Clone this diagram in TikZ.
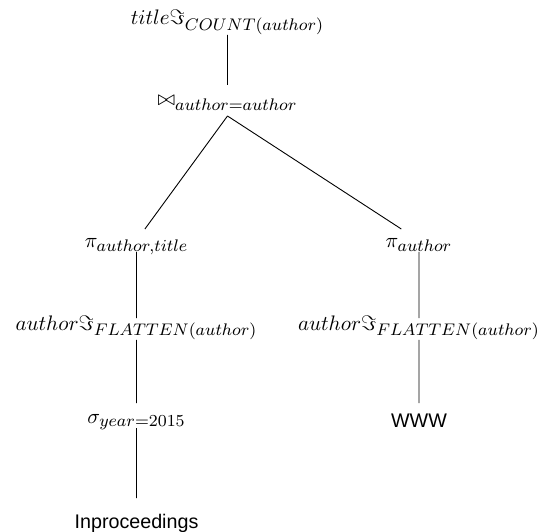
\RequirePackage{fix-cm}
\documentclass[tikz,border=0pt]{standalone}
\usepackage{fontspec}
\newfontfamily\relfont{Liberation Sans}
\DeclareMathSizes{10}{10}{8}{6}

\tikzset{
  x=1pt, y=-1pt,
  every node/.style={inner sep=0pt, outer sep=0pt, anchor=base},
  % operator labels: 10pt math, enlarged as a whole
  op/.style={font=\fontsize{10}{12}\selectfont, scale=2.1, transform shape},
  rel/.style={font=\relfont\fontsize{19.7}{24}\selectfont},
  link/.style={draw=black, line width=0.9pt}
}

\begin{document}
\begin{tikzpicture}
  \useasboundingbox (0,0) rectangle (538,532);

  % operators
  \node[op, text height=9.52pt, text depth=4.76pt]  (root)  at (227.5,25)  {$title\Im_{COUNT(author)}$};
  \node[op, text height=10pt,   text depth=4.76pt]  (join)  at (227.5,106) {$\bowtie_{author=author}$};
  \node[op, text height=8.57pt, text depth=2.38pt]  (pil)   at (136.5,247) {$\pi_{author,title}$};
  \node[op, text height=5.71pt, text depth=4.76pt]  (flatl) at (136.5,330) {$author\Im_{FLATTEN(author)}$};
  \node[op, text height=9.52pt, text depth=2.38pt]  (sel)   at (136.5,423) {$\sigma_{year=2015}$};
  \node[op, text height=8.57pt, text depth=2.38pt]  (pir)   at (419,247)   {$\pi_{author}$};
  \node[op, text height=5.71pt, text depth=4.76pt]  (flatr) at (419,330)   {$author\Im_{FLATTEN(author)}$};

  % base relations
  \node[rel, text height=30pt, text depth=4pt] (inpro) at (136.5,528) {Inproceedings};
  \node[rel, text height=24pt, text depth=4pt] (www)   at (419,427)   {WWW};

  % edges
  \draw[link] (root) -- (join);
  \draw[link] (join.south) -- (pil);
  \draw[link] (join.south) -- (pir);
  \draw[link] (pil) -- (flatl);
  \draw[link] (flatl) -- (sel);
  \draw[link] (sel) -- (inpro);
  \draw[link] (pir) -- (flatr);
  \draw[link] (flatr) -- (www);
\end{tikzpicture}
\end{document}
